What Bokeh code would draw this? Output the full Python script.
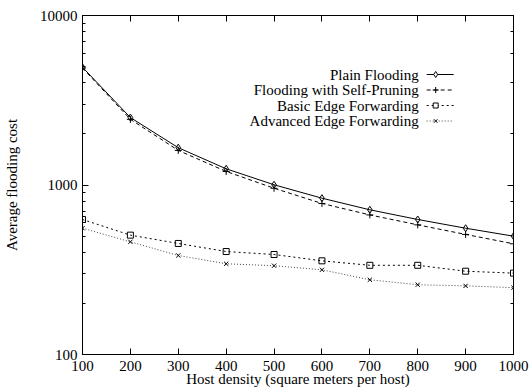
from bokeh.plotting import figure
from bokeh.models import (ColumnDataSource, FixedTicker, Range1d, LinearScale,
                          LogAxis, LinearAxis, PrintfTickFormatter,
                          CustomJSTickFormatter)
from bokeh.core.properties import value
from bokeh.embed import file_html
from bokeh.resources import INLINE

# ---- data ----
hosts = [100, 200, 300, 400, 500, 600, 700, 800, 900, 1000]
plain_flooding = [4950, 2500, 1660, 1246, 1003, 836, 714, 626, 556, 499]
self_pruning = [4900, 2440, 1600, 1202, 957, 778, 666, 582, 511, 450]
basic_edge = [626, 506, 452, 405, 389, 357, 336, 336, 310, 302]
advanced_edge = [556, 462, 384, 343, 334, 316, 276, 258, 254, 248]
x_ticks = [100, 200, 300, 400, 500, 600, 700, 800, 900, 1000]
series_names = ["Plain Flooding", "Flooding with Self-Pruning",
                "Basic Edge Forwarding", "Advanced Edge Forwarding"]
x_label = "Host density (square meters per host)"
y_label = "Average flooding cost"

FONT = "Liberation Serif"
FS = "15px"
FRAME_W, FRAME_H = 432, 339

p = figure(width=529, height=392, output_backend="svg", toolbar_location=None,
           y_axis_type="log", x_range=(100, 1000), y_range=(100, 10000),
           min_border_left=81, min_border_right=16, min_border_top=15,
           min_border_bottom=38)
p.background_fill_color = "white"
p.border_fill_color = "white"
p.outline_line_color = "black"
p.outline_line_width = 1
p.xgrid.visible = False
p.ygrid.visible = False

# pixel-like ranges for the gnuplot-style key (text left, sample right)
p.extra_x_ranges = {"kx": Range1d(0, FRAME_W)}
p.extra_y_ranges = {"ky": Range1d(FRAME_H, 0)}
p.extra_x_scales = {"kx": LinearScale()}
p.extra_y_scales = {"ky": LinearScale()}

src = ColumnDataSource(dict(x=hosts, a=plain_flooding, b=self_pruning,
                            c=basic_edge, d=advanced_edge))

styles = [
    ("a", "solid", "black", "diamond", 7),
    ("b", "4 3", "black", "cross", 7),
    ("c", "2 3", "black", "square", 6),
    ("d", "1 2", "#444444", "x", 6),
]
key_rows = [59, 74.5, 90, 105.5]
for (col, dash, color, marker, size), name, ky in zip(styles, series_names, key_rows):
    p.line("x", col, source=src, line_color=color, line_width=1,
           line_dash=dash)
    p.scatter("x", col, source=src, marker=marker, size=size,
              line_color="black", fill_color=None, line_width=1)
    # key entry
    p.text(x=[337], y=[ky], text=[name], text_align="right",
           text_baseline="middle", text_font=value(FONT),
           text_font_size=FS, text_color="black",
           x_range_name="kx", y_range_name="ky")
    p.line(x=[345, 372], y=[ky, ky], line_color=color, line_width=1,
           line_dash=dash, x_range_name="kx", y_range_name="ky")
    p.scatter(x=[354], y=[ky], marker=marker, size=size - 1,
              line_color="black", fill_color="white", line_width=1,
              x_range_name="kx", y_range_name="ky")

for ax in (p.xaxis[0], p.yaxis[0]):
    ax.major_label_text_font = FONT
    ax.major_label_text_font_size = FS
    ax.axis_label_text_font = FONT
    ax.axis_label_text_font_size = FS
    ax.axis_label_text_font_style = "normal"
    ax.major_tick_in = 6
    ax.major_tick_out = 0
    ax.minor_tick_in = 3
    ax.minor_tick_out = 0
    ax.axis_line_color = "black"
    ax.major_tick_line_color = "black"
    ax.minor_tick_line_color = "black"
    ax.major_label_text_color = "black"
    ax.axis_label_text_color = "black"

p.xaxis[0].ticker = FixedTicker(ticks=x_ticks)
p.xaxis[0].axis_label = x_label
p.xaxis[0].major_label_standoff = 6
p.xaxis[0].axis_label_standoff = -3
p.yaxis[0].ticker.desired_num_ticks = 3
p.yaxis[0].formatter = PrintfTickFormatter(format="%d")
p.yaxis[0].axis_label = y_label
p.yaxis[0].major_label_standoff = 5
p.yaxis[0].axis_label_standoff = 17

# mirrored ticks (gnuplot style)
blank = CustomJSTickFormatter(code="return ''")
ra = LogAxis(formatter=blank, major_tick_in=6, major_tick_out=0,
             minor_tick_in=3, minor_tick_out=0, major_label_standoff=0)
ra.ticker.desired_num_ticks = 3
ta = LinearAxis(ticker=FixedTicker(ticks=x_ticks), formatter=blank,
                major_tick_in=6, major_tick_out=0, minor_tick_out=0,
                major_label_standoff=0)
p.add_layout(ra, "right")
p.add_layout(ta, "above")

open("out.html", "w").write(file_html(p, INLINE))
